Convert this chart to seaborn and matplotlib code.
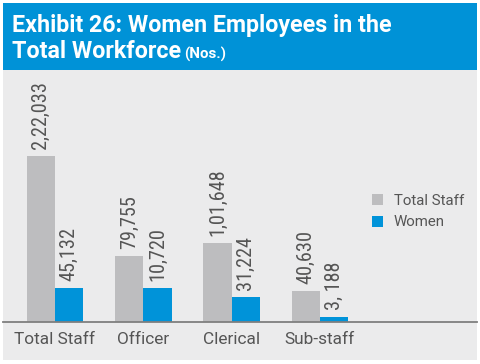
import matplotlib
matplotlib.use("Agg")
import numpy as np
import pandas as pd
import matplotlib.pyplot as plt
import seaborn as sns
from matplotlib import font_manager
from matplotlib.patches import Rectangle

# ---------------- data ----------------
categories = ["Total Staff", "Officer", "Clerical", "Sub-staff"]
series = ["Total Staff", "Women"]
# bar heights (Nos.)
total_staff = [222033, 87900, 104900, 41000]
women = [45132, 45100, 33000, 6300]
# printed value labels
total_labels = ["2,22,033", "79,755", "1,01,648", "40,630"]
women_labels = ["45,132", "10,720", "31,224", "3, 188"]
title_line1 = "Exhibit 26: Women Employees in the"
title_line2 = "Total Workforce"
title_unit = "(Nos.)"

GRAY = "#BDBDBF"
BLUE = "#0093D9"
HEADER = "#0092D7"
PANEL = "#EBEBEC"
TXT = "#555555"

W, H = 480, 364
sns.set_theme(style="white")

# pick fonts
names = {f.name for f in font_manager.fontManager.ttflist}
cond_family, cond_stretch = None, "normal"
for cand in ["Roboto Condensed", "DejaVu Sans Condensed", "Liberation Sans Narrow", "Open Sans Condensed"]:
    if cand in names:
        cond_family = cand
        break
if cond_family is None:
    for f in font_manager.fontManager.ttflist:
        st = f.stretch if isinstance(f.stretch, str) else ""
        if f.name == "DejaVu Sans" and "condensed" in st:
            cond_family, cond_stretch = "DejaVu Sans", "condensed"
            break
if cond_family is None:
    cond_family = "Roboto" if "Roboto" in names else "DejaVu Sans"
BASE = "Roboto" if "Roboto" in names else "DejaVu Sans"
plt.rcParams["font.family"] = [BASE, "DejaVu Sans"]

fig = plt.figure(figsize=(W / 100, H / 100), dpi=100)
fig.patch.set_facecolor("white")
fig.patches.append(Rectangle((3 / W, 1 - 70 / H), 474 / W, 67 / H, transform=fig.transFigure,
                             facecolor=HEADER, edgecolor="none", zorder=-2))
fig.patches.append(Rectangle((3 / W, 1 - 360 / H), 474 / W, 290 / H, transform=fig.transFigure,
                             facecolor=PANEL, edgecolor="none", zorder=-2))

renderer = fig.canvas.get_renderer()


def fit_width(t, target):
    bb = t.get_window_extent(renderer)
    t.set_fontsize(t.get_fontsize() * target / bb.width)


def fitted_size(text, target, **kw):
    p = fig.text(0, 0, text, fontsize=12, **kw)
    s = 12 * target / p.get_window_extent(renderer).width
    p.remove()
    return s


# title
t1 = fig.text(12 / W, 1 - 32 / H, title_line1, color="white", fontweight="bold", fontsize=16,
              va="baseline", ha="left")
fit_width(t1, 380)
t2 = fig.text(12 / W, 1 - 58.5 / H, title_line2, color="white", fontweight="bold",
              fontsize=t1.get_fontsize(), va="baseline", ha="left")
t3 = fig.text(184 / W, 1 - 58.5 / H, title_unit, color="white", fontweight="bold", fontsize=10,
              va="baseline", ha="left")
fit_width(t3, 42)

# axes
base_y, top_y = 322, 75
ax = fig.add_axes([3 / W, (H - base_y) / H, 474 / W, (base_y - top_y) / H])
ax.set_facecolor("none")
ax.set_zorder(1)

df = pd.DataFrame({
    "category": categories * 2,
    "series": [series[0]] * 4 + [series[1]] * 4,
    "value": total_staff + women,
})
sns.barplot(data=df, x="category", y="value", hue="series", order=categories, hue_order=series,
            palette=[GRAY, BLUE], width=0.64, saturation=1, ax=ax, legend=True, edgecolor="none",
            linewidth=0)

ax.set_ylim(0, 222033 / 166.3 * (base_y - top_y))
ax.set_xlim(-0.589, 4.78)
for s in ["top", "left", "right"]:
    ax.spines[s].set_visible(False)
ax.spines["bottom"].set_color("#7F7F7F")
ax.spines["bottom"].set_linewidth(1.3)
ax.set_yticks([])
ax.set_xlabel("")
ax.set_ylabel("")
tick_size = fitted_size(categories[0], 81)
ax.tick_params(axis="x", length=0, pad=7, colors=TXT, labelsize=tick_size)

# value labels
vsize = fitted_size(total_labels[0], 67, family=cond_family, stretch=cond_stretch)
for cont, labs in zip(ax.containers, [total_labels, women_labels]):
    ax.bar_label(cont, labels=labs, rotation=90, padding=5, color=TXT, fontsize=vsize,
                 family=cond_family, fontstretch=cond_stretch)

# legend
lsize = fitted_size(series[0], 70)
lpx = lsize * 100 / 72  # font size in pixels
handles = [Rectangle((0, 0), 1, 1, facecolor=GRAY, edgecolor="none"),
           Rectangle((0, 0), 1, 1, facecolor=BLUE, edgecolor="none")]
ax.legend(handles, series, loc="upper left", bbox_to_anchor=(372 / W, 1 - 194 / H),
          bbox_transform=fig.transFigure, frameon=False, fontsize=lsize,
          handlelength=11 / lpx, handleheight=11 / lpx, handletextpad=11 / lpx,
          labelspacing=0.5, borderpad=0, borderaxespad=0, labelcolor=TXT)

fig.savefig("out.png", dpi=100)
